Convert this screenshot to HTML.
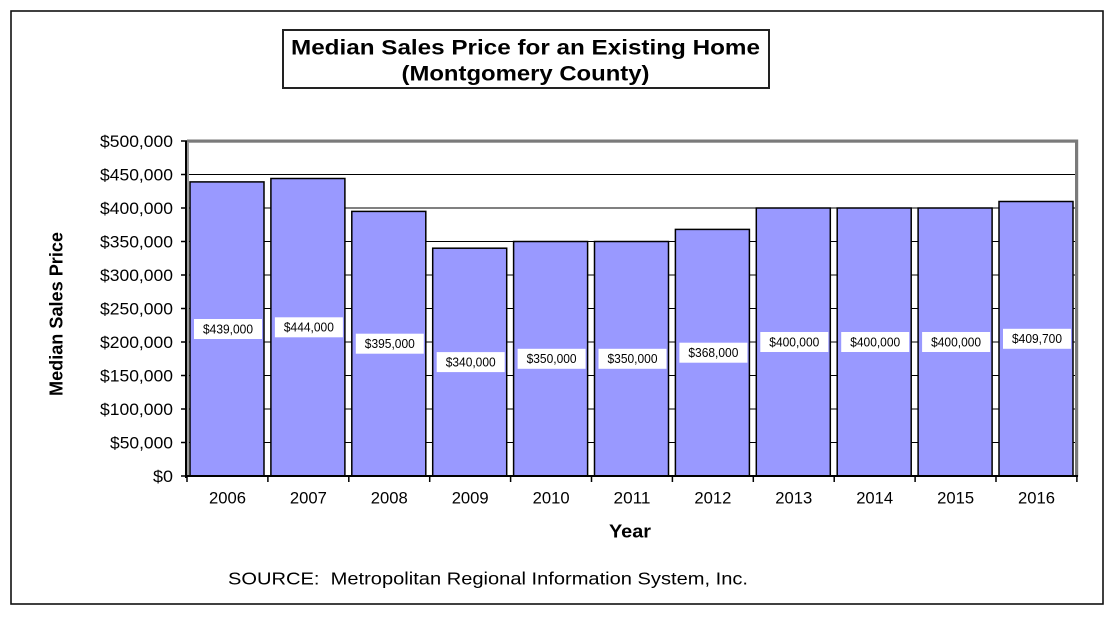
<!DOCTYPE html>
<html>
<head>
<meta charset="utf-8">
<style>
  html, body { margin: 0; padding: 0; background: #fff; }
  svg { display: block; }
  text { font-family: "Liberation Sans", Arial, sans-serif; fill: #000; }
</style>
</head>
<body>
<svg width="1116" height="624" viewBox="0 0 1116 624" xmlns="http://www.w3.org/2000/svg">
  <rect x="0" y="0" width="1116" height="624" fill="#fff"/>
  <!-- outer border -->
  <rect x="11" y="11" width="1092" height="593" fill="none" stroke="#111" stroke-width="1.6"/>

  <!-- title box -->
  <rect x="283" y="30" width="486" height="58" fill="#fff" stroke="#222" stroke-width="2"/>
  <text x="525.5" y="54.5" font-size="21" font-weight="bold" text-anchor="middle" textLength="469" lengthAdjust="spacingAndGlyphs">Median Sales Price for an Existing Home</text>
  <text x="525.5" y="80.5" font-size="21" font-weight="bold" text-anchor="middle" textLength="248" lengthAdjust="spacingAndGlyphs">(Montgomery County)</text>

  <!-- gridlines -->
  <g stroke="#000" stroke-width="1">
    <line x1="187" y1="442.5" x2="1076" y2="442.5"/>
    <line x1="187" y1="409" x2="1076" y2="409"/>
    <line x1="187" y1="375.5" x2="1076" y2="375.5"/>
    <line x1="187" y1="342" x2="1076" y2="342"/>
    <line x1="187" y1="308.5" x2="1076" y2="308.5"/>
    <line x1="187" y1="275" x2="1076" y2="275"/>
    <line x1="187" y1="241.5" x2="1076" y2="241.5"/>
    <line x1="187" y1="208" x2="1076" y2="208"/>
    <line x1="187" y1="174.5" x2="1076" y2="174.5"/>
  </g>

  <!-- 3D wall edges -->
  <rect x="187" y="139.5" width="891" height="3.2" fill="#7a7a7a"/>
  <rect x="1075" y="139.5" width="3.2" height="337" fill="#7a7a7a"/>
  <rect x="187" y="142" width="2" height="334" fill="#9a9a9a"/>

  <!-- bars -->
  <g fill="#9999FF" stroke="#000" stroke-width="1.5">
    <rect x="190" y="181.9" width="74" height="294.1"/>
    <rect x="270.9" y="178.5" width="74" height="297.5"/>
    <rect x="351.8" y="211.4" width="74" height="264.6"/>
    <rect x="432.7" y="248.2" width="74" height="227.8"/>
    <rect x="513.6" y="241.5" width="74" height="234.5"/>
    <rect x="594.5" y="241.5" width="74" height="234.5"/>
    <rect x="675.4" y="229.4" width="74" height="246.6"/>
    <rect x="756.3" y="208" width="74" height="268"/>
    <rect x="837.2" y="208" width="74" height="268"/>
    <rect x="918.1" y="208" width="74" height="268"/>
    <rect x="999" y="201.5" width="74" height="274.5"/>
  </g>

  <!-- data labels -->
  <g fill="#fff">
    <rect x="194" y="319" width="68" height="20"/>
    <rect x="274.9" y="317.3" width="68" height="20"/>
    <rect x="355.8" y="333.7" width="68" height="20"/>
    <rect x="436.7" y="352.1" width="68" height="20"/>
    <rect x="517.6" y="348.8" width="68" height="20"/>
    <rect x="598.5" y="348.8" width="68" height="20"/>
    <rect x="679.4" y="342.7" width="68" height="20"/>
    <rect x="760.3" y="332" width="68" height="20"/>
    <rect x="841.2" y="332" width="68" height="20"/>
    <rect x="922.1" y="332" width="68" height="20"/>
    <rect x="1003" y="328.8" width="68" height="20"/>
  </g>
  <g font-size="12.5" text-anchor="middle">
    <text x="228" y="333.4" textLength="50" lengthAdjust="spacingAndGlyphs">$439,000</text>
    <text x="308.9" y="331.7" textLength="50" lengthAdjust="spacingAndGlyphs">$444,000</text>
    <text x="389.8" y="348.1" textLength="50" lengthAdjust="spacingAndGlyphs">$395,000</text>
    <text x="470.7" y="366.5" textLength="50" lengthAdjust="spacingAndGlyphs">$340,000</text>
    <text x="551.6" y="363.2" textLength="50" lengthAdjust="spacingAndGlyphs">$350,000</text>
    <text x="632.5" y="363.2" textLength="50" lengthAdjust="spacingAndGlyphs">$350,000</text>
    <text x="713.4" y="357.1" textLength="50" lengthAdjust="spacingAndGlyphs">$368,000</text>
    <text x="794.3" y="346.4" textLength="50" lengthAdjust="spacingAndGlyphs">$400,000</text>
    <text x="875.2" y="346.4" textLength="50" lengthAdjust="spacingAndGlyphs">$400,000</text>
    <text x="956.1" y="346.4" textLength="50" lengthAdjust="spacingAndGlyphs">$400,000</text>
    <text x="1037" y="343.2" textLength="50" lengthAdjust="spacingAndGlyphs">$409,700</text>
  </g>

  <!-- axes -->
  <line x1="186" y1="141" x2="186" y2="478" stroke="#000" stroke-width="2"/>
  <line x1="185" y1="476" x2="1078" y2="476" stroke="#000" stroke-width="2"/>

  <!-- y ticks -->
  <g stroke="#000" stroke-width="1.5">
    <line x1="181" y1="476" x2="187" y2="476"/>
    <line x1="181" y1="442.5" x2="187" y2="442.5"/>
    <line x1="181" y1="409" x2="187" y2="409"/>
    <line x1="181" y1="375.5" x2="187" y2="375.5"/>
    <line x1="181" y1="342" x2="187" y2="342"/>
    <line x1="181" y1="308.5" x2="187" y2="308.5"/>
    <line x1="181" y1="275" x2="187" y2="275"/>
    <line x1="181" y1="241.5" x2="187" y2="241.5"/>
    <line x1="181" y1="208" x2="187" y2="208"/>
    <line x1="181" y1="174.5" x2="187" y2="174.5"/>
    <line x1="181" y1="141" x2="187" y2="141"/>
  </g>
  <!-- x ticks -->
  <g stroke="#000" stroke-width="1.5">
    <line x1="187" y1="476" x2="187" y2="482"/>
    <line x1="267.9" y1="476" x2="267.9" y2="482"/>
    <line x1="348.8" y1="476" x2="348.8" y2="482"/>
    <line x1="429.7" y1="476" x2="429.7" y2="482"/>
    <line x1="510.6" y1="476" x2="510.6" y2="482"/>
    <line x1="591.5" y1="476" x2="591.5" y2="482"/>
    <line x1="672.4" y1="476" x2="672.4" y2="482"/>
    <line x1="753.3" y1="476" x2="753.3" y2="482"/>
    <line x1="834.2" y1="476" x2="834.2" y2="482"/>
    <line x1="915.1" y1="476" x2="915.1" y2="482"/>
    <line x1="996" y1="476" x2="996" y2="482"/>
    <line x1="1076.9" y1="476" x2="1076.9" y2="482"/>
  </g>

  <!-- y labels -->
  <g font-size="17" text-anchor="end">
    <text x="173" y="482" textLength="20" lengthAdjust="spacingAndGlyphs">$0</text>
    <text x="173" y="448.5" textLength="63" lengthAdjust="spacingAndGlyphs">$50,000</text>
    <text x="173" y="415" textLength="73" lengthAdjust="spacingAndGlyphs">$100,000</text>
    <text x="173" y="381.5" textLength="73" lengthAdjust="spacingAndGlyphs">$150,000</text>
    <text x="173" y="348" textLength="73" lengthAdjust="spacingAndGlyphs">$200,000</text>
    <text x="173" y="314.5" textLength="73" lengthAdjust="spacingAndGlyphs">$250,000</text>
    <text x="173" y="281" textLength="73" lengthAdjust="spacingAndGlyphs">$300,000</text>
    <text x="173" y="247.5" textLength="73" lengthAdjust="spacingAndGlyphs">$350,000</text>
    <text x="173" y="214" textLength="73" lengthAdjust="spacingAndGlyphs">$400,000</text>
    <text x="173" y="180.5" textLength="73" lengthAdjust="spacingAndGlyphs">$450,000</text>
    <text x="173" y="147" textLength="73" lengthAdjust="spacingAndGlyphs">$500,000</text>
  </g>

  <!-- x labels -->
  <g font-size="17" text-anchor="middle">
    <text x="227.5" y="503.5" textLength="37" lengthAdjust="spacingAndGlyphs">2006</text>
    <text x="308.4" y="503.5" textLength="37" lengthAdjust="spacingAndGlyphs">2007</text>
    <text x="389.3" y="503.5" textLength="37" lengthAdjust="spacingAndGlyphs">2008</text>
    <text x="470.2" y="503.5" textLength="37" lengthAdjust="spacingAndGlyphs">2009</text>
    <text x="551.1" y="503.5" textLength="37" lengthAdjust="spacingAndGlyphs">2010</text>
    <text x="632" y="503.5" textLength="37" lengthAdjust="spacingAndGlyphs">2011</text>
    <text x="712.9" y="503.5" textLength="37" lengthAdjust="spacingAndGlyphs">2012</text>
    <text x="793.8" y="503.5" textLength="37" lengthAdjust="spacingAndGlyphs">2013</text>
    <text x="874.7" y="503.5" textLength="37" lengthAdjust="spacingAndGlyphs">2014</text>
    <text x="955.6" y="503.5" textLength="37" lengthAdjust="spacingAndGlyphs">2015</text>
    <text x="1036.5" y="503.5" textLength="37" lengthAdjust="spacingAndGlyphs">2016</text>
  </g>

  <!-- axis titles -->
  <text x="630" y="537.5" font-size="18" font-weight="bold" text-anchor="middle" textLength="42" lengthAdjust="spacingAndGlyphs">Year</text>
  <text transform="translate(62.5,314) rotate(-90)" x="0" y="0" font-size="18" font-weight="bold" text-anchor="middle" textLength="164" lengthAdjust="spacingAndGlyphs">Median Sales Price</text>

  <!-- source -->
  <text x="228" y="584.5" font-size="17.5" textLength="520" lengthAdjust="spacingAndGlyphs">SOURCE:&#160; Metropolitan Regional Information System, Inc.</text>
</svg>
</body>
</html>
